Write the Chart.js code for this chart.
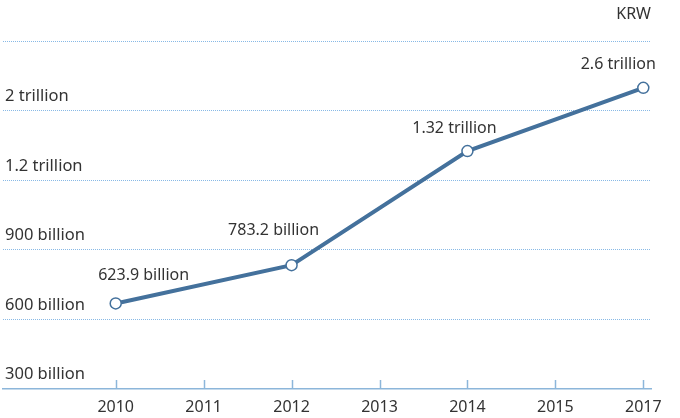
<!DOCTYPE html>
<html>
<head>
<meta charset="utf-8">
<script src="https://cdn.jsdelivr.net/npm/chart.js@4/dist/chart.umd.min.js"></script>
<style>
  html, body { margin: 0; padding: 0; background: #fff; }
  #wrap { width: 680px; height: 418px; }
</style>
</head>
<body>
<div id="wrap"><canvas id="lineChart"></canvas></div>
<script>
// Chart data
const years = ['2010', '2011', '2012', '2013', '2014', '2015', '2017'];
const yTickLabels = ['300 billion', '600 billion', '900 billion', '1.2 trillion', '2 trillion', ''];
const pointYears = ['2010', '2012', '2014', '2017'];
// position against the (unevenly labelled) gridlines
const pointLevels = [1.23, 1.78, 3.42, 4.33];
const valueLabels = ['623.9 billion', '783.2 billion', '1.32 trillion', '2.6 trillion'];
const unitLabel = 'KRW';

Chart.defaults.font.family = "'Noto Sans', sans-serif";
Chart.defaults.color = '#333333';

const lineColor = '#44719c';
const axisColor = '#8cb6da';
const gridColor = '#88b9e6';

// small upward ticks on the x axis
const axisTicks = {
    id: 'axisTicks',
    afterDraw(chart) {
        const x = chart.scales.x;
        const ctx = chart.ctx;
        const bottom = chart.chartArea.bottom;
        ctx.save();
        ctx.strokeStyle = axisColor;
        ctx.lineWidth = 1.5;
        years.forEach((y, i) => {
            const px = Math.round(x.getPixelForValue(i)) + 0.5;
            ctx.beginPath();
            ctx.moveTo(px, bottom);
            ctx.lineTo(px, bottom - 9);
            ctx.stroke();
        });
        ctx.restore();
    }
};

// value labels next to each point
const valueTags = {
    id: 'valueTags',
    afterDatasetsDraw(chart, args, opts) {
        const meta = chart.getDatasetMeta(0);
        const ctx = chart.ctx;
        ctx.save();
        ctx.font = "16px 'Noto Sans', sans-serif";
        ctx.fillStyle = '#333333';
        ctx.textAlign = 'center';
        ctx.textBaseline = 'middle';
        meta.data.forEach((pt, i) => {
            ctx.fillText(valueLabels[i], pt.x + opts.dx[i], pt.y + opts.dy[i]);
        });
        ctx.restore();
    }
};

const noPad = s => {
    s.paddingLeft = 0;
    s.paddingRight = 0;
    s.paddingTop = 0;
    s.paddingBottom = 0;
};

new Chart(document.getElementById('lineChart'), {
    type: 'line',
    data: {
        datasets: [{
            data: pointYears.map((yr, i) => ({ x: years.indexOf(yr), y: pointLevels[i] })),
            borderColor: lineColor,
            borderWidth: 4,
            tension: 0,
            pointRadius: 5.5,
            pointBackgroundColor: '#ffffff',
            pointBorderColor: lineColor,
            pointBorderWidth: 1.5,
            fill: false
        }]
    },
    options: {
        responsive: true,
        maintainAspectRatio: false,
        animation: false,
        layout: {
            autoPadding: false,
            padding: { top: 0, right: 29, bottom: 0, left: 3 }
        },
        plugins: {
            legend: { display: false },
            tooltip: { enabled: false },
            title: {
                display: true,
                text: unitLabel,
                align: 'end',
                color: '#333333',
                font: { size: 16, weight: 'normal' },
                padding: { top: 5, bottom: 17 }
            },
            valueTags: {
                dx: [28, -18, -13, -25],
                dy: [-28, -35, -23, -23]
            }
        },
        scales: {
            x: {
                type: 'linear',
                min: -1.2817,
                max: 6.0876,
                afterBuildTicks: axis => {
                    axis.ticks = years.map((y, i) => ({ value: i }));
                },
                afterFit: s => {
                    noPad(s);
                    s.height = 29;
                },
                ticks: {
                    autoSkip: false,
                    maxRotation: 0,
                    padding: 9,
                    color: '#333333',
                    font: { size: 16 },
                    callback: v => years[v]
                },
                grid: {
                    display: true,
                    drawOnChartArea: false,
                    drawTicks: false
                },
                border: {
                    display: true,
                    color: axisColor,
                    width: 1.5
                }
            },
            y: {
                type: 'linear',
                min: 0,
                max: 5,
                afterFit: s => {
                    noPad(s);
                    s.width = 0;
                },
                ticks: {
                    stepSize: 1,
                    mirror: true,
                    padding: 2,
                    labelOffset: -14.5,
                    color: '#333333',
                    font: { size: 16.5 },
                    callback: v => yTickLabels[v]
                },
                grid: {
                    drawTicks: false,
                    lineWidth: 1,
                    color: c => c.tick && c.tick.value === 0 ? 'rgba(0,0,0,0)' : gridColor
                },
                border: {
                    display: false,
                    dash: [1, 1]
                }
            }
        }
    },
    plugins: [axisTicks, valueTags]
});
</script>
</body>
</html>
